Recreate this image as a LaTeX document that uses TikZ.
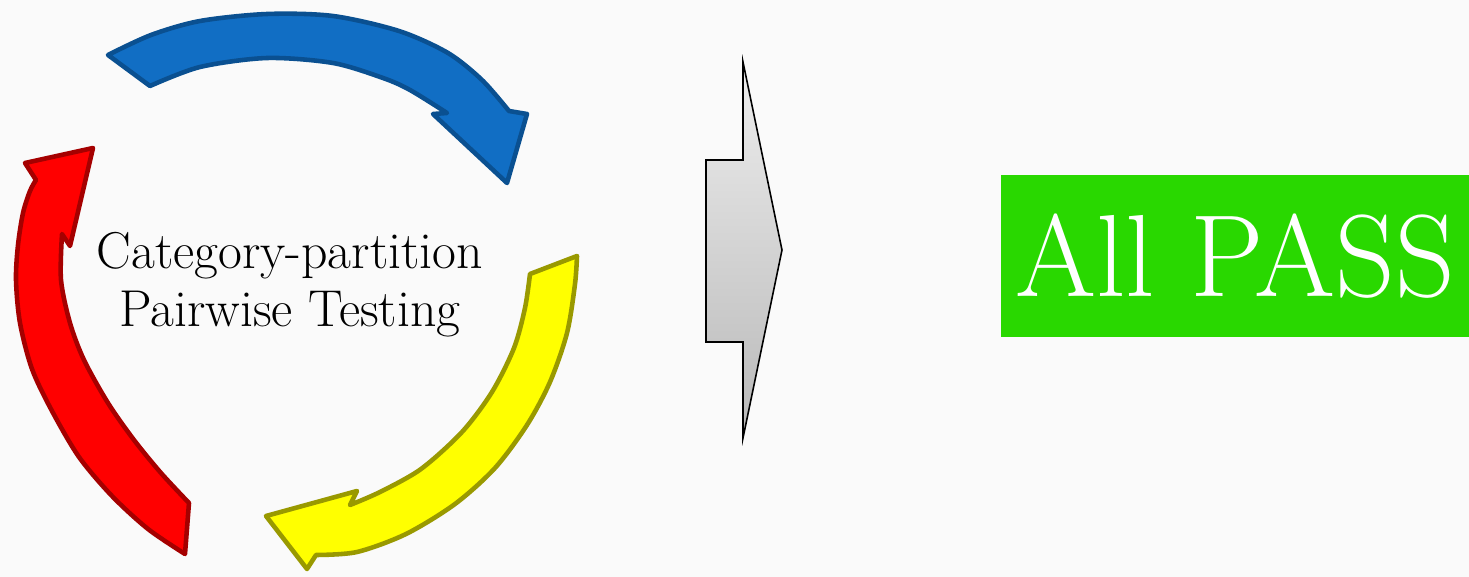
\documentclass[tikz,border=0pt]{standalone}
\usepackage{tikz}

\definecolor{bgpaper}{RGB}{250,250,250}
\definecolor{cycblue}{RGB}{17,110,196}
\definecolor{cycblueline}{RGB}{10,80,145}
\definecolor{cycred}{RGB}{255,0,0}
\definecolor{cycredline}{RGB}{165,0,0}
\definecolor{cycyellow}{RGB}{255,255,0}
\definecolor{cycyellowline}{RGB}{153,153,0}
\definecolor{passgreen}{RGB}{41,216,0}

\begin{document}
\begin{tikzpicture}[x=0.2mm,y=-0.2mm,
		cyclearrow/.style={line width=2.6pt,line join=round},
		blockarrow/.style={draw=black,line width=0.9pt,line join=miter,
			top color={rgb,255:red,238;green,238;blue,238},
			bottom color={rgb,255:red,184;green,184;blue,184}},
		passbox/.style={rectangle,fill=passgreen,inner sep=0pt,
			minimum width=93.6mm,minimum height=32.4mm,text=white}]
%		\draw[help lines] (0,0) grid (1469,577);
		\fill[bgpaper] (0,0) rectangle (1469,577);
		\useasboundingbox (0,0) rectangle (1469,577);

		% cycle arrows
		\path (108,55) coordinate (blue_tail_o);
		\path (150,86) coordinate (blue_tail_i);
		\path (507,183) coordinate (blue_tip);
		\path (185,554) coordinate (red_tail_o);
		\path (189,503) coordinate (red_tail_i);
		\path (93,148) coordinate (red_tip);
		\path (577,256) coordinate (yellow_tail_o);
		\path (530,274) coordinate (yellow_tail_i);
		\path (266,516) coordinate (yellow_tip);

		\filldraw[cyclearrow,fill=cycblue,draw=cycblueline] (blue_tail_o)
			-- plot[smooth] coordinates {(108,55) (151,35) (200,21) (267,14) (333,16) (399,31) (448,53) (482,80) (509,111)}
			-- (527,114) -- (blue_tip) -- (433,114) -- (447,113)
			-- plot[smooth] coordinates {(447,113) (410,90) (383,78) (333,63) (267,58) (200,67) (150,86)}
			-- (blue_tail_i) -- cycle;

		\filldraw[cyclearrow,fill=cycred,draw=cycredline] (red_tail_o)
			-- plot[smooth] coordinates {(185,554) (148,529) (112,496) (79,457) (52,411) (32,369) (20,323) (16,280) (18,245) (23,213) (30,191) (36,180)}
			-- (25,163) -- (red_tip) -- (70,246) -- (62,234)
			-- plot[smooth] coordinates {(62,234) (61,280) (70,323) (84,360) (108,403) (134,440) (161,473) (189,503)}
			-- (red_tail_i) -- cycle;

		\filldraw[cyclearrow,fill=cycyellow,draw=cycyellowline] (yellow_tail_o)
			-- plot[smooth] coordinates {(577,256) (575,284) (567,333) (550,382) (527,425) (495,468) (455,504) (406,534) (357,552) (316,555)}
			-- (307,569) -- (yellow_tip) -- (357,491) -- (350,505)
			-- plot[smooth] coordinates {(350,505) (380,492) (421,469) (462,432) (492,392) (514,348) (525,308) (530,274)}
			-- (yellow_tail_i) -- cycle;

		\node[align=center,font=\fontsize{29.5}{33}\selectfont] (cycletext) at (290,285)
			{Category-partition\\Pairwise Testing};

		% block arrow
		\path (743,62) coordinate (blk_top);
		\path (743,438) coordinate (blk_bot);
		\path (782,250) coordinate (blk_tip);
		\draw[blockarrow] (blk_top) -- (743,160) -- (706,160) -- (706,342)
			-- (743,342) -- (blk_bot) -- (blk_tip) -- cycle;

		\node[passbox,font=\fontsize{66.5}{66.5}\selectfont] (allpass) at (1235,256) {All PASS};
	\end{tikzpicture}
\end{document}
